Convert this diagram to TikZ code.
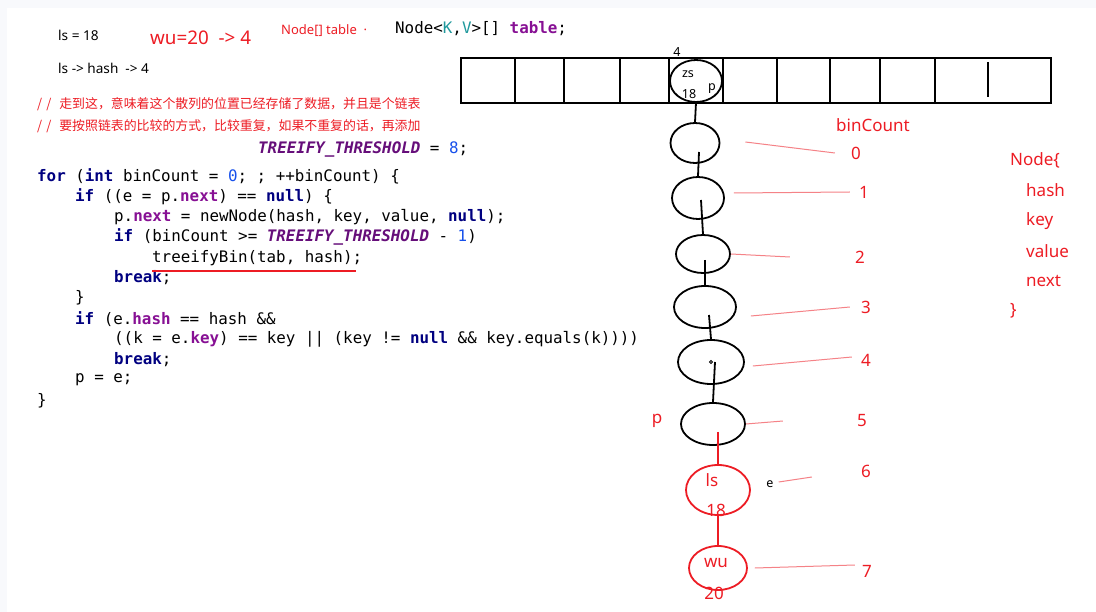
\documentclass[tikz,border=0pt]{standalone}
\usepackage{fontspec}
\setmainfont{Noto Sans}
\setmonofont{DejaVu Sans Mono}
\newfontfamily\cjkfont{Noto Sans CJK SC}
\usepackage{tikz}
\usetikzlibrary{shapes.geometric}
\definecolor{paintRed}{RGB}{237, 28, 36}
\definecolor{kwBlue}{RGB}{0, 0, 128}
\definecolor{fieldPurple}{RGB}{135, 16, 148}
\definecolor{constPurple}{RGB}{102, 14, 122}
\definecolor{numBlue}{RGB}{23, 80, 235}
\definecolor{typeTeal}{RGB}{32, 153, 157}
\definecolor{edgeGray}{RGB}{248, 249, 252}
\newcommand{\codefont}{\fontsize{15.85}{18}\selectfont\ttfamily}
\newcommand{\jkw}[1]{\textcolor{kwBlue}{\bfseries #1}}
\newcommand{\jfld}[1]{\textcolor{fieldPurple}{\bfseries #1}}
\newcommand{\jnum}[1]{\textcolor{numBlue}{#1}}
\newcommand{\jconst}[1]{\textcolor{constPurple}{\bfseries\itshape #1}}
\newcommand{\slashes}{/\hspace{4pt}/\hspace{8pt}}

\begin{document}
\begin{tikzpicture}[
        x=1pt, y=-1pt,
        code/.style={
            anchor=west,
            inner sep=0pt,
            font=\codefont
        },
        plain/.style={
            anchor=west,
            inner sep=0pt,
            font=\fontsize{13.6}{15}\selectfont
        },
        comment/.style={
            anchor=west,
            inner sep=0pt,
            text=paintRed,
            font=\fontsize{12.9}{15}\selectfont\cjkfont
        },
        redtext/.style={
            inner sep=0pt,
            text=paintRed,
            font=\fontsize{17}{20}\selectfont
        },
        small/.style={
            inner sep=0pt,
            font=\fontsize{12.5}{14}\selectfont
        },
        bucket/.style={
            ellipse,
            draw,
            line width=1.8pt,
            inner sep=0pt
        },
        redbucket/.style={
            bucket,
            draw=paintRed
        },
        link/.style={
            line width=1.8pt
        },
        redlink/.style={
            link,
            draw=paintRed
        },
        pointer/.style={
            draw=paintRed!55,
            line width=1pt
        }
    ]

        \fill[edgeGray] (0,0) rectangle (1096,612);
        \fill[white] (7,8) rectangle (1096,612);
        \useasboundingbox (0,0) rectangle (1096,612);

        % notes at the top
        \node[plain] (lsval) at (58,35) {ls = 18};
        \node[plain, text=paintRed, font=\fontsize{18.8}{20}\selectfont] (wuval) at (150,38) {wu=20\ \ -> 4};
        \node[plain, text=paintRed, font=\fontsize{13}{15}\selectfont] (arrtype) at (281,31) {Node[] table\ \ ·};
        \node[code] (decl) at (395,29) {Node<\textcolor{typeTeal}{K},\textcolor{typeTeal}{V}>[] \jfld{table};};
        \node[plain] (lshash) at (58,68) {ls -> hash\ \ -> 4};
        \node[comment] (cmtone) at (37,104) {\slashes 走到这，意味着这个散列的位置已经存储了数据，并且是个链表};
        \node[comment] (cmttwo) at (37,126) {\slashes 要按照链表的比较的方式，比较重复，如果不重复的话，再添加};

        % code
        \node[code] (thres) at (258,149) {\jconst{TREEIFY\_THRESHOLD} = \jnum{8};};
        \node[code] (forline) at (37,176) {\jkw{for} (\jkw{int} binCount = \jnum{0}; ; ++binCount) \{};
        \node[code] (ifnull) at (75,197) {\jkw{if} ((e = p.\jfld{next}) == \jkw{null}) \{};
        \node[code] (newnode) at (114,217) {p.\jfld{next} = newNode(hash, key, value, \jkw{null});};
        \node[code] (ifcount) at (114,237) {\jkw{if} (binCount >= \jconst{TREEIFY\_THRESHOLD} - \jnum{1})};
        \node[code] (tree) at (152,258) {treeifyBin(tab, hash);};
        \node[code] (breakone) at (114,278) {\jkw{break};};
        \node[code] (closeif) at (75,298) {\}};
        \node[code] (ifhash) at (75,319) {\jkw{if} (e.\jfld{hash} == hash \&\&};
        \node[code] (ifkey) at (114,339) {((k = e.\jfld{key}) == key || (key != \jkw{null} \&\& key.equals(k))))};
        \node[code] (breaktwo) at (114,360) {\jkw{break};};
        \node[code] (advance) at (75,380) {p = e;};
        \node[code] (closefor) at (37,401) {\}};

        \draw[draw=paintRed, line width=1.6pt] ([yshift=-5pt]tree.south west) -- ([xshift=-6pt, yshift=-5pt]tree.south east);

        % the table
        \draw[line width=2pt] (461,58) rectangle (1051,103);
        \foreach \x in {515, 564, 620, 669, 723, 777, 830, 880, 935}
            \draw[line width=1.5pt] (\x,58) -- (\x,103);
        \draw[line width=1.5pt] (988,62) -- (988,97);

        \node[bucket, minimum width=52, minimum height=42] (zs) at (696,81) {};
        \node[small] (idx) at (677,52) {4};
        \node[small] (zsname) at (688,74) {zs};
        \node[small] (zshash) at (689,94) {18};
        \node[small] (zsp) at (712,89) {p};

        % the bin
        \node[bucket, minimum width=49, minimum height=40] (n0) at (695,143) {};
        \node[bucket, minimum width=52, minimum height=42] (n1) at (698,198) {};
        \node[bucket, minimum width=54, minimum height=38] (n2) at (703,254) {};
        \node[bucket, minimum width=62, minimum height=42] (n3) at (705,307) {};
        \node[bucket, minimum width=66, minimum height=44] (n4) at (711,362) {};
        \node[bucket, minimum width=64, minimum height=42] (n5) at (713,424) {};
        \node[redbucket, minimum width=64, minimum height=50] (ls) at (718,490) {};
        \node[redbucket, minimum width=58, minimum height=44] (wu) at (718,568) {};
        \draw[line width=0.8pt] (n4.center) circle (1.5);

        \node[redtext] (lsname) at (712,480) {ls};
        \node[redtext] (lshashv) at (716,510) {18};
        \node[redtext] (wuname) at (716,563) {wu};
        \node[redtext] (wuhash) at (714,593) {20};
        \node[redtext] (pmark) at (657,421) {p};
        \node[small] (emark) at (770,484) {e};

        \draw[link] (zs.south) -- (n0.north);
        \draw[link] ([xshift=4pt, yshift=-9pt]n0.center) -- (n1.north);
        \draw[link] ([xshift=3pt, yshift=-2pt]n1.center) -- (n2.north);
        \draw[link] ([xshift=2pt, yshift=-6pt]n2.center) -- (n3.north);
        \draw[link] ([xshift=4pt, yshift=-8pt]n3.center) -- (n4.north);
        \draw[link] ([xshift=4pt]n4.center) -- (n5.north);
        \draw[redlink] ([xshift=5pt, yshift=-8pt]n5.center) -- (ls.north);
        \draw[redlink] (ls.south) -- (wu.north);

        % binCount
        \node[redtext] (bincount) at (873,125) {binCount};
        \node[redtext] (b0) at (856,153) {0};
        \node[redtext] (b1) at (864,192) {1};
        \node[redtext] (b2) at (860,257) {2};
        \node[redtext] (b3) at (866,307) {3};
        \node[redtext] (b4) at (866,360) {4};
        \node[redtext] (b5) at (862,421) {5};
        \node[redtext] (b6) at (866,471) {6};
        \node[redtext] (b7) at (867,571) {7};

        \draw[pointer] ([xshift=25pt, yshift=1pt]n0.east) -- ([xshift=-16pt]b0.west);
        \draw[pointer] ([xshift=9pt, yshift=5pt]n1.east) -- ([xshift=-9pt]b1.west);
        \draw[pointer] (n2.east) -- ([xshift=-65pt]b2.west);
        \draw[pointer] ([xshift=14pt, yshift=-9pt]n3.east) -- ([xshift=-11pt]b3.west);
        \draw[pointer] ([xshift=8pt, yshift=-4pt]n4.east) -- ([xshift=-9pt, yshift=3pt]b4.west);
        \draw[pointer] (n5.east) -- ([xshift=-74pt]b5.west);
        \draw[pointer] ([xshift=5pt, yshift=2pt]emark.east) -- ([xshift=-49pt, yshift=-6pt]b6.west);
        \draw[pointer] ([xshift=7pt]wu.east) -- ([xshift=-7pt, yshift=6pt]b7.west);

        % the node fields
        \node[redtext, anchor=west] (nodeopen) at (1010,160) {Node\{};
        \node[redtext, anchor=west] (fhash) at (1026,190) {hash};
        \node[redtext, anchor=west] (fkey) at (1026,221) {key};
        \node[redtext, anchor=west] (fvalue) at (1026,251) {value};
        \node[redtext, anchor=west] (fnext) at (1026,281) {next};
        \node[redtext, anchor=west] (nodeclose) at (1010,311) {\}};

    \end{tikzpicture}
\end{document}
